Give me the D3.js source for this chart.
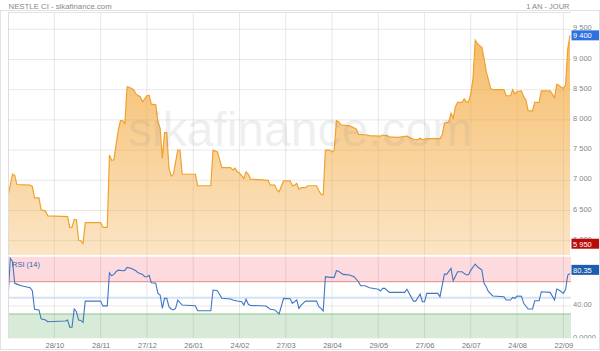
<!DOCTYPE html>
<html>
<head>
<meta charset="utf-8">
<script src="https://cdn.jsdelivr.net/npm/d3@7"></script>
<style>
  body { margin: 0; background: #fff; }
  svg { display: block; font-family: "Liberation Sans", Arial, sans-serif; }
</style>
</head>
<body>
<svg id="chart" width="600" height="351"></svg>
<script>
// trading day index (0 = first session shown) and closing price
var priceDay = [0,2,3,4,10,11,12,14,15,17,18,27,28,29,30,31,32,33,34,35,42,43,45,46,47,48,50,51,52,53,54,55,57,58,60,61,63,64,65,67,68,69,70,71,72,73,74,75,77,78,79,85,86,92,93,95,97,101,102,103,104,105,107,108,109,110,118,119,121,122,123,125,128,129,130,131,132,133,135,136,140,141,142,143,144,146,147,148,149,150,151,155,158,159,163,164,169,170,172,173,177,181,184,186,187,188,190,196,197,198,200,201,202,203,204,206,207,208,209,210,211,212,213,214,215,216,217,219,220,225,226,228,229,230,231,233,234,235,236,238,239,241,242,246,248,249,250,252,253,254,255];
var priceVal = [6740,7100,7080,6930,6920,6900,6710,6710,6510,6490,6410,6400,6220,6220,6350,6350,6010,6000,5950,6300,6300,6220,6220,7420,7330,7340,7830,7990,7990,7940,8550,8540,8500,8430,8380,8300,8400,8410,8260,8250,7970,7860,7360,7790,7790,7200,7070,7100,7500,7500,7100,7100,6910,6910,7500,7470,7210,7210,7170,7200,7140,7120,7030,7140,7100,7020,7000,6920,6920,6840,6810,6990,6990,6910,6920,6950,6850,6880,6880,6910,6910,6830,6770,6760,7500,7500,7470,7500,7990,7970,7920,7900,7850,7760,7750,7740,7730,7750,7740,7720,7710,7730,7680,7670,7700,7670,7690,7690,7750,7940,7970,8110,8030,8220,8290,8290,8350,8300,8300,8440,8690,9320,9260,9230,9200,9020,8800,8520,8500,8500,8400,8400,8500,8430,8470,8480,8380,8330,8150,8150,8290,8290,8480,8480,8370,8590,8570,8520,8580,9180,9400];

// RSI (14)
var rsiDay = [0,1,2,3,4,6,8,10,11,12,14,15,17,18,26,27,28,29,30,31,32,33,34,35,42,43,45,46,47,48,49,50,52,53,54,56,58,59,61,62,63,64,65,67,68,69,70,71,72,73,74,75,76,77,79,85,86,92,93,95,97,101,102,104,106,107,108,109,110,117,119,121,123,125,128,129,131,132,133,135,140,141,142,143,144,146,148,149,150,152,155,157,159,160,162,164,168,169,170,171,173,180,181,183,184,185,187,188,189,190,195,196,198,199,201,202,204,206,208,209,210,212,213,215,216,217,218,220,225,226,228,229,230,231,233,234,236,238,239,241,242,246,248,249,250,252,253,254,255];
var rsiVal = [50.6,99,95,68,67,65,63.8,62.5,58.8,35.8,35,24,22.5,20.4,21.3,22.5,13.5,13.5,36,32.8,22.5,22,19.7,46,46,40,40,81,77.4,79,82.4,84.4,83.6,84,87.8,86.5,83.6,81,79,76.2,76.2,78,68.7,68,55.6,53.5,37,49.4,49.4,39,36.2,35,37,47.3,41.1,40.2,34,34,59.7,58.8,49.4,48.5,47.3,46,45.2,41.1,48.2,42,40.6,39.9,35.8,35,30,49.4,48.9,43.2,47.3,37,41,46,46,39,37,33.7,76.2,75.4,75.4,83.6,83,79.1,78.3,76.2,70,65,65,62.5,60.6,58.5,61.8,61.8,56.8,56.8,60.6,50.6,46,46,54.7,45.2,45.2,55.6,55.6,51.4,79.5,79.1,86.6,71.2,82.4,82.4,78.3,79,84.4,91.9,88.5,84.4,68,63.8,57.6,52.3,51.4,47.3,47.3,50.6,49.5,52.3,52,43.2,36.2,36.2,46.4,46.4,57.6,56.8,47.3,60.9,59.7,55.6,60.6,78.3,80.35];

// date labels, one every 21 sessions
var tickDay = [21,42,63,84,105,126,147,168,189,210,231,252];
var tickLabel = ["28/10","28/11","27/12","26/01","24/02","27/03","28/04","29/05","27/06","26/07","24/08","22/09"];

var priceTicks = [6000,6500,7000,7500,8000,8500,9000,9500];
var rsiTicks = [0,40];
var rsiTickLabel = ["0.0000","40.00"];

var svg = d3.select("#chart");
var left = 8, right = 571;
var pTop = 12, pBottom = 255;
var rTop = 256.5, rBottom = 338.3;

var x = d3.scaleLinear().domain([0, 255]).range([8.1, 570]);
var yP = d3.scaleLinear().domain([6000, 9500]).range([240.7, 29.3]);
var yR = d3.scaleLinear().domain([0, 100]).range([338.2, 257.5]);

var fmt = d3.formatLocale({ decimal: ".", thousands: " ", grouping: [3], currency: ["", ""] }).format(",");

var price = priceDay.map(function (d, i) { return { d: d, v: priceVal[i] }; });
var rsi = rsiDay.map(function (d, i) { return { d: d, v: rsiVal[i] }; });

var defs = svg.append("defs");
defs.append("clipPath").attr("id", "clipP")
    .append("rect").attr("x", left).attr("y", pTop).attr("width", right - left).attr("height", pBottom - pTop);
defs.append("clipPath").attr("id", "clipR")
    .append("rect").attr("x", left).attr("y", rTop).attr("width", 600 - left).attr("height", rBottom - rTop);
var grad = defs.append("linearGradient").attr("id", "fillGrad")
    .attr("gradientUnits", "userSpaceOnUse")
    .attr("x1", 0).attr("x2", 0).attr("y1", 35).attr("y2", pBottom);
grad.append("stop").attr("offset", 0).attr("stop-color", "#f2a22f").attr("stop-opacity", 0.72);
grad.append("stop").attr("offset", 1).attr("stop-color", "#f2a22f").attr("stop-opacity", 0.28);

// titles
svg.append("text").attr("x", 8.5).attr("y", 8.5)
    .style("font-size", "7.8px").style("fill", "#888")
    .text("NESTLE CI - sikafinance.com");
svg.append("text").attr("x", 569.5).attr("y", 8.5).attr("text-anchor", "end")
    .style("font-size", "7.5px").style("fill", "#888")
    .text("1 AN - JOUR");

// RSI bands
svg.append("rect").attr("x", left).attr("y", rTop).attr("width", right - left).attr("height", yR(70) - rTop)
    .style("fill", "#fcdadd");
svg.append("rect").attr("x", left).attr("y", yR(30)).attr("width", right - left).attr("height", rBottom - yR(30))
    .style("fill", "#d8ebd8");

// vertical gridlines in both panels
svg.append("g").selectAll("line").data(tickDay).enter().append("line")
    .attr("x1", function (d) { return x(d); }).attr("x2", function (d) { return x(d); })
    .attr("y1", pTop).attr("y2", rBottom)
    .style("stroke", "rgba(0,0,0,0.09)").style("stroke-width", 1);

// horizontal gridlines price
svg.append("g").selectAll("line").data(priceTicks).enter().append("line")
    .attr("x1", left).attr("x2", right)
    .attr("y1", function (d) { return yP(d); }).attr("y2", function (d) { return yP(d); })
    .style("stroke", "rgba(0,0,0,0.09)");
// rsi levels
svg.append("line").attr("x1", left).attr("x2", right).attr("y1", yR(40)).attr("y2", yR(40))
    .style("stroke", "rgba(0,0,0,0.09)");
svg.append("line").attr("x1", left).attr("x2", right).attr("y1", yR(50)).attr("y2", yR(50))
    .style("stroke", "#d3e3f6").style("stroke-width", 2);
svg.append("line").attr("x1", left).attr("x2", right).attr("y1", yR(70)).attr("y2", yR(70))
    .style("stroke", "#e08a8a");
svg.append("line").attr("x1", left).attr("x2", right).attr("y1", yR(30)).attr("y2", yR(30))
    .style("stroke", "#8cc48c");

// price area + line
var area = d3.area().x(function (d) { return x(d.d); }).y0(pBottom).y1(function (d) { return yP(d.v); });
var line = d3.line().x(function (d) { return x(d.d); }).y(function (d) { return yP(d.v); });
var gP = svg.append("g").attr("clip-path", "url(#clipP)");
gP.append("path").datum(price).attr("d", area).style("fill", "url(#fillGrad)");
gP.append("path").datum(price).attr("d", line)
    .style("fill", "none").style("stroke", "#f0a22c").style("stroke-width", 1.2);

// watermark
svg.append("text").attr("x", 128).attr("y", 146)
    .style("font-size", "48px").style("fill", "#999").style("fill-opacity", 0.18)
    .text("sikafinance.com");

// rsi line
var rline = d3.line().x(function (d) { return x(d.d); }).y(function (d) { return yR(d.v); });
svg.append("g").attr("clip-path", "url(#clipR)").append("path").datum(rsi).attr("d", rline)
    .style("fill", "none").style("stroke", "#4276c2").style("stroke-width", 1.1);

svg.append("text").attr("x", 12).attr("y", 266.5)
    .style("font-size", "7.5px").style("fill", "#3d64a8")
    .text("RSI (14)");

// panel borders
svg.append("line").attr("x1", left + 0.5).attr("x2", left + 0.5).attr("y1", pTop).attr("y2", rBottom)
    .style("stroke", "#ddd");
svg.append("line").attr("x1", left).attr("x2", right).attr("y1", pTop + 0.5).attr("y2", pTop + 0.5)
    .style("stroke", "#e3e3e3");
svg.append("line").attr("x1", left).attr("x2", right).attr("y1", 255.8).attr("y2", 255.8)
    .style("stroke", "#fff").style("stroke-width", 1.5);

// right axes
var axP = svg.append("g").attr("transform", "translate(" + right + ",0)")
    .call(d3.axisRight(yP).tickValues(priceTicks).tickSize(0).tickPadding(2).tickFormat(fmt));
axP.select(".domain").remove();
axP.selectAll("text").attr("dy", "0.5").style("font-size", "7.5px").style("fill", "#888").style("font-family", null);

var axR = svg.append("g").attr("clip-path", "url(#clipR)")
    .append("g").attr("transform", "translate(" + right + ",0)")
    .call(d3.axisRight(yR).tickValues(rsiTicks).tickSize(0).tickPadding(2)
        .tickFormat(function (d, i) { return rsiTickLabel[i]; }));
axR.select(".domain").remove();
axR.selectAll("text").attr("dy", "1").style("font-size", "7.5px").style("fill", "#888").style("font-family", null);

// bottom axis
var axX = svg.append("g").attr("transform", "translate(0," + rBottom + ")")
    .call(d3.axisBottom(x).tickValues(tickDay).tickSize(0).tickPadding(4)
        .tickFormat(function (d, i) { return tickLabel[i]; }));
axX.select(".domain").remove();
axX.selectAll("text").style("font-size", "7.5px").style("fill", "#777").style("font-family", null);

// value badges
function badge(yc, txt, color) {
    svg.append("rect").attr("x", right + 0.5).attr("y", yc - 5).attr("width", 600 - right).attr("height", 10)
        .style("fill", color);
    svg.append("text").attr("x", right + 2).attr("y", yc + 2.8)
        .style("font-size", "7.5px").style("fill", "#fff").text(txt);
}
var lastP = priceVal[priceVal.length - 1];
var minP = d3.min(priceVal);
var lastR = rsiVal[rsiVal.length - 1];
badge(yP(lastP), fmt(lastP), "#2f72df");
badge(yP(minP), fmt(minP), "#bb0a0a");
badge(yR(lastR) - 3.5, d3.format(".2f")(lastR), "#1d5daf");

// outer frame
svg.append("rect").attr("x", 0.5).attr("y", 10.5).attr("width", 599).attr("height", 339)
    .style("fill", "none").style("stroke", "#e2e2e2");
</script>
</body>
</html>
